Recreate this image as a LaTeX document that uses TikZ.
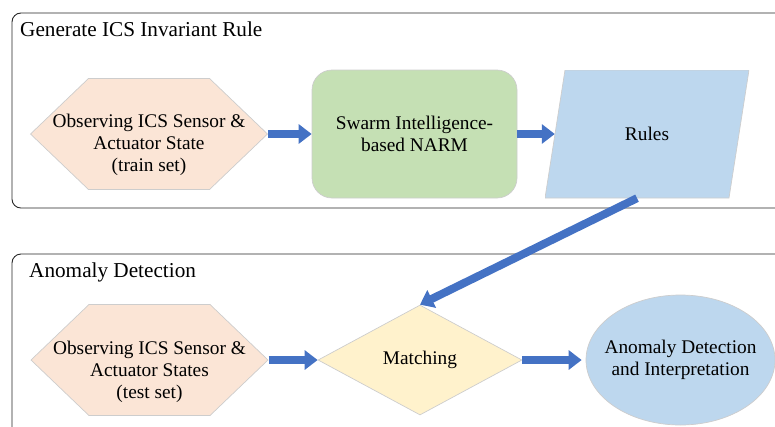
\documentclass[tikz,border=0pt]{standalone}
\usepackage{fontspec}
\setmainfont{Liberation Serif}
\usepackage{tikz}
\usetikzlibrary{arrows.meta,positioning,shapes.geometric,shapes.symbols}
\definecolor{flowBlue}{RGB}{68,114,196}
\definecolor{peach}{RGB}{251,229,214}
\definecolor{mint}{RGB}{197,224,180}
\definecolor{skyBlue}{RGB}{189,215,238}
\definecolor{cream}{RGB}{255,242,204}
\definecolor{edgeGray}{RGB}{205,205,205}
\tikzset{
  panel/.style={draw=black!85, line width=0.9pt, rounded corners=9pt},
  paneltitle/.style={anchor=base west, inner sep=0pt, font=\fontsize{21.3}{24}\selectfont},
  bodytxt/.style={align=center, inner sep=0pt, font=\fontsize{19.4}{22}\selectfont},
  shapeln/.style={bodytxt, draw=edgeGray, line width=0.7pt},
  hexbox/.style={shapeln, fill=peach, signal, signal to=east and west,
    signal pointer angle=87.5, minimum width=237bp, minimum height=111bp},
  narmbox/.style={shapeln, fill=mint, rounded corners=20bp, minimum width=205bp, minimum height=128bp},
  rulebox/.style={bodytxt, minimum width=204bp, minimum height=128bp,
    path picture={\filldraw[fill=skyBlue, draw=edgeGray, line width=0.7pt]
      ([xshift=20bp]path picture bounding box.north west) -- (path picture bounding box.north east)
      -- ([xshift=-20bp]path picture bounding box.south east) -- (path picture bounding box.south west) -- cycle;}},
  matchbox/.style={shapeln, fill=cream, diamond, aspect=1.85, minimum width=204bp, minimum height=110bp},
  detectbox/.style={shapeln, fill=skyBlue, ellipse, minimum width=189bp, minimum height=130bp},
  flowarr/.style={-{Triangle[length=13bp,width=19bp]}, line width=8bp, flowBlue},
}

\begin{document}
\begin{tikzpicture}[x=1bp, y=-1bp]
  \useasboundingbox (0,0) rectangle (775,426);
  \clip (0,0) rectangle (775,426);
  % panels
  \draw[panel] (12,13) rectangle (800,208);
  \draw[panel] (12,254) rectangle (800,450);
  \node[paneltitle] (genTitle) at (20,36) {Generate ICS Invariant Rule};
  \node[paneltitle] (detTitle) at (29,277) {Anomaly Detection};
  % rule generation
  \node[hexbox] (obsTrain) at (149,134) {};
  \node[bodytxt] (obsTrainTxt) at ([yshift=-11bp]obsTrain.center)
    {Observing ICS Sensor \&\\Actuator State\\(train set)};
  \node[narmbox] (narm) at (414.5,134) {Swarm Intelligence-\\based NARM};
  \node[rulebox] (rules) at (647,134) {Rules};
  % detection
  \node[hexbox] (obsTest) at (149.5,360) {};
  \node[bodytxt] (obsTestTxt) at ([yshift=-12bp]obsTest.center)
    {Observing ICS Sensor \&\\Actuator States\\(test set)};
  \node[matchbox] (match) at (420,360) {Matching};
  \node[detectbox] (detect) at (680.5,360) {};
  \node[bodytxt] (detectTxt) at (detect.center) {Anomaly Detection\\and Interpretation};
  % arrows
  \draw[flowarr] (obsTrain.east) -- (narm.west);
  \draw[flowarr] (narm.east) -- ([xshift=10bp]rules.west);
  \draw[flowarr] ([xshift=-10bp]rules.south) -- (match.north);
  \draw[flowarr] (obsTest.east) -- (match.west);
  \draw[flowarr, shorten >=4bp] (match.east) -- (detect.west);
\end{tikzpicture}
\end{document}
